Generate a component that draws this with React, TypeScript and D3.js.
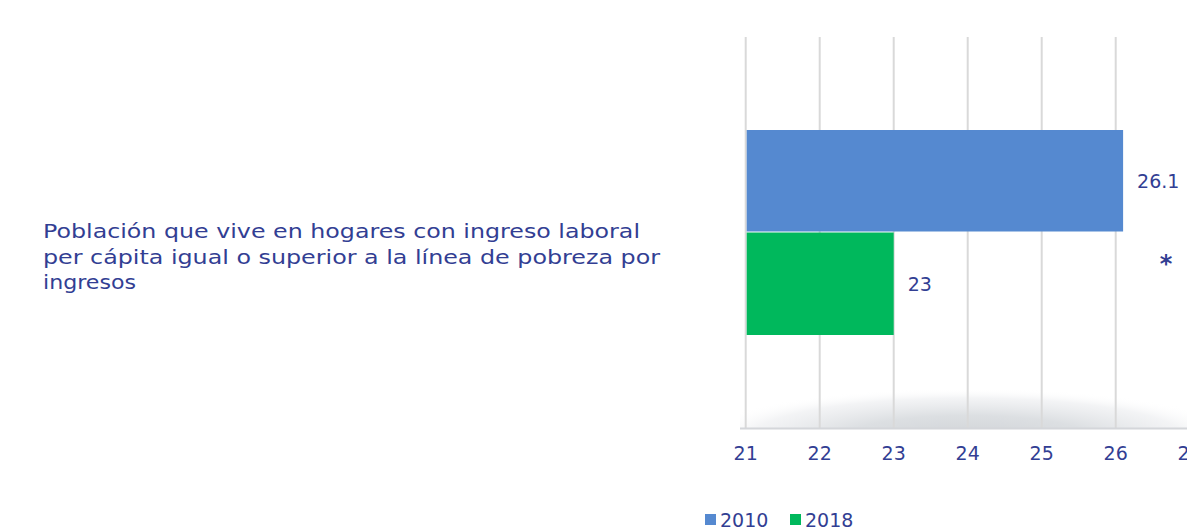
import React from "react";
import * as d3 from "d3";

const categoryLines = [
  "Población que vive en hogares con ingreso laboral",
  "per cápita igual o superior a la línea de pobreza por",
  "ingresos",
];
const categoryLineWidths = [597, 617, 93];
const seriesNames = ["2010", "2018"];
const seriesValues = [26.1, 23];
const seriesColors = ["#5589D0", "#00B85C"];
const valueLabels = ["26.1", "23"];
const xTicks = [21, 22, 23, 24, 25, 26, 27];

const W = 1187;
const H = 531;
const textColor = "#323E93";
const font = "DejaVu Sans, sans-serif";

export default function App() {
  const x = d3.scaleLinear().domain([21, 27]).range([745.7, 1189.7]);
  const y = d3.scaleBand().domain(seriesNames).range([130, 335]).paddingInner(0);
  const top = 37;
  const bottom = 428;
  const cx = x(24);

  return (
    <svg
      width={W}
      height={H}
      style={{ position: "absolute", left: 0, top: 0, background: "#fff" }}
      fontFamily={font}
    >
      <defs>
        <radialGradient
          id="floorGrad"
          gradientUnits="userSpaceOnUse"
          cx={0}
          cy={0}
          r={1}
          gradientTransform={`translate(${cx},${bottom + 10}) scale(272,50)`}
        >
          <stop offset="0" stopColor="#d0d3d7" stopOpacity="1" />
          <stop offset="0.45" stopColor="#dcdfe2" stopOpacity="1" />
          <stop offset="0.8" stopColor="#f0f1f3" stopOpacity="0.8" />
          <stop offset="1" stopColor="#ffffff" stopOpacity="0" />
        </radialGradient>
      </defs>
      {/* floor shadow */}
      <rect x={740} y={380} width={W - 740} height={bottom - 380} fill="url(#floorGrad)" />
      {/* gridlines */}
      {xTicks.map((t) => (
        <line
          key={t}
          x1={x(t)}
          x2={x(t)}
          y1={top}
          y2={bottom}
          stroke="#d9d9d9"
          strokeWidth={2}
        />
      ))}
      {/* axis base line */}
      <line x1={740} x2={W} y1={bottom + 0.5} y2={bottom + 0.5} stroke="#d4d6da" strokeWidth={2} />
      {/* bars */}
      {seriesNames.map((s, i) => (
        <rect
          key={s}
          x={x(21) + 1}
          y={y(s)!}
          width={x(seriesValues[i]) - x(21) - 1}
          height={y.bandwidth() - (i === 0 ? 1 : 0)}
          fill={seriesColors[i]}
        />
      ))}
      {/* value labels */}
      {seriesNames.map((s, i) => (
        <text
          key={s}
          x={x(seriesValues[i]) + 14}
          y={y(s)! + y.bandwidth() / 2}
          dominantBaseline="central"
          fontSize={19}
          fill={textColor}
        >
          {valueLabels[i]}
        </text>
      ))}
      {/* asterisk */}
      <text x={1166} y={264} textAnchor="middle" dominantBaseline="central" fontSize={24} fontWeight="bold" fill={textColor}>
        *
      </text>
      {/* tick labels */}
      {xTicks.map((t) => (
        <text
          key={t}
          x={x(t)}
          y={453}
          textAnchor="middle"
          dominantBaseline="central"
          fontSize={19}
          fill={textColor}
        >
          {t}
        </text>
      ))}
      {/* category label */}
      {categoryLines.map((l, i) => (
        <text
          key={i}
          x={43}
          y={231 + i * 25.5}
          dominantBaseline="central"
          fontSize={20}
          fill={textColor}
          textLength={categoryLineWidths[i]}
          lengthAdjust="spacingAndGlyphs"
        >
          {l}
        </text>
      ))}
      {/* legend */}
      {seriesNames.map((s, i) => (
        <g key={s} transform={`translate(${705 + i * 85},0)`}>
          <rect x={0} y={514} width={11} height={11} fill={seriesColors[i]} />
          <text x={15} y={520} dominantBaseline="central" fontSize={19} fill={textColor}>
            {s}
          </text>
        </g>
      ))}
    </svg>
  );
}
